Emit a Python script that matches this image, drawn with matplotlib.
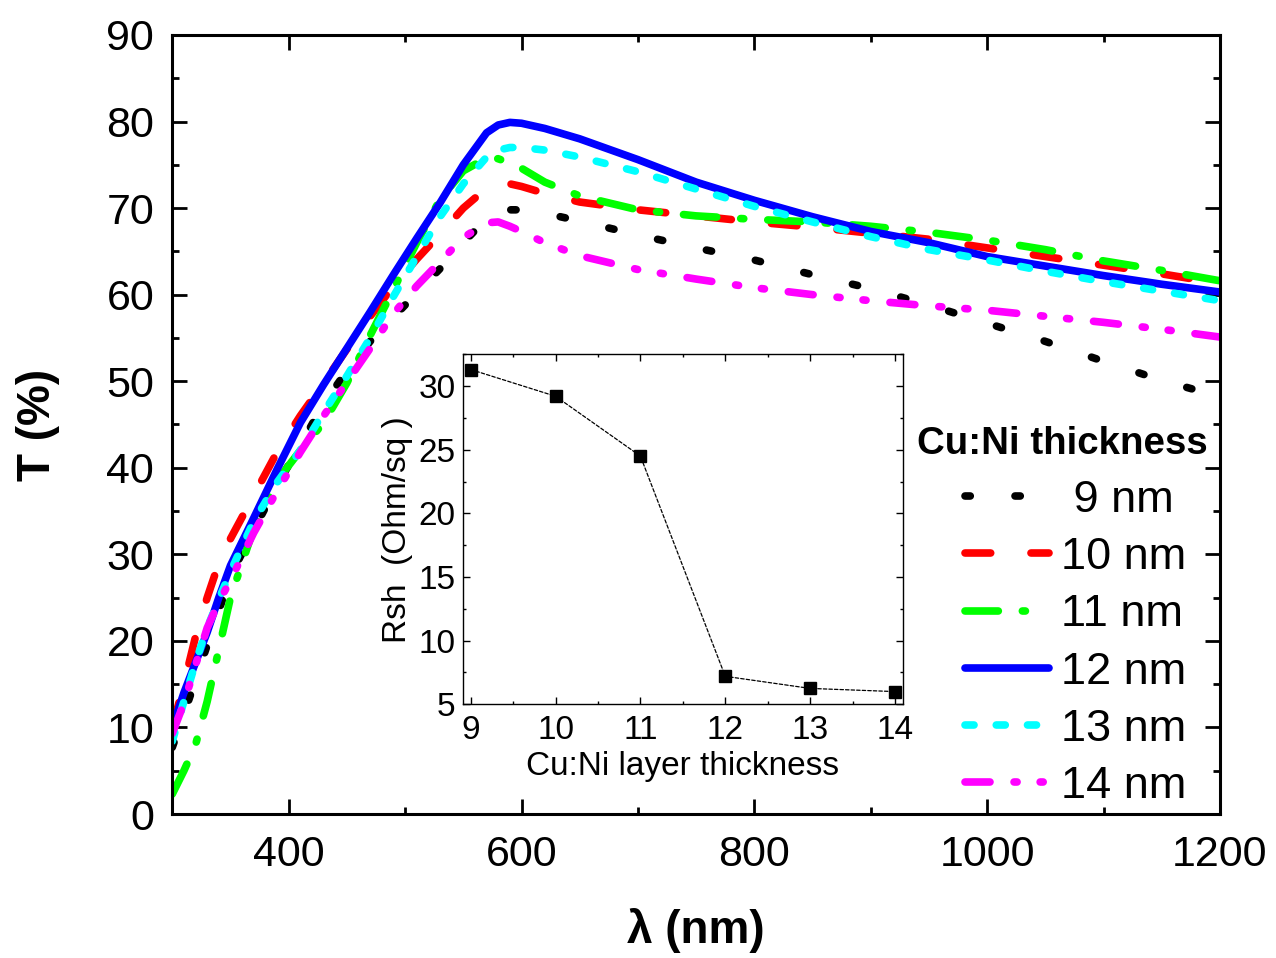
import matplotlib
matplotlib.use("Agg")
import matplotlib.pyplot as plt
from matplotlib.ticker import MultipleLocator

plt.rcParams['font.family'] = ['Liberation Sans', 'DejaVu Sans']
plt.rcParams['lines.scale_dashes'] = False
plt.rcParams['lines.dash_capstyle'] = 'round'
plt.rcParams['lines.solid_capstyle'] = 'round'

# ---------------- data ----------------
wavelength = [300, 310, 320, 330, 340, 350, 370, 390, 410, 430, 450, 470, 490,
              510, 530, 550, 570, 580, 590, 600, 620, 650, 700, 750, 800, 850,
              900, 950, 1000, 1050, 1100, 1150, 1200]

T_9nm = [7.7, 11.5, 15.5, 19.5, 23.5, 27.5, 32.8, 38.0, 42.6, 47.4, 51.2, 54.6, 57.4,
         60.2, 63.0, 66.0, 68.8, 69.5, 69.8, 69.8, 69.4, 68.5, 66.9, 65.4, 64.0, 62.3,
         60.7, 58.8, 56.7, 54.6, 52.3, 50.1, 48.2]
T_10nm = [10.0, 15.0, 20.5, 25.0, 29.0, 31.8, 36.8, 41.8, 46.0, 49.8, 53.7, 57.5, 61.0,
          64.1, 67.0, 70.0, 72.3, 72.8, 72.8, 72.5, 71.7, 70.7, 69.8, 69.1, 68.4, 67.8,
          67.1, 66.4, 65.4, 64.4, 63.4, 62.4, 61.3]
T_11nm = [2.3, 5.0, 8.0, 13.0, 19.0, 25.0, 33.0, 38.5, 42.0, 45.2, 49.8, 55.3, 60.6,
          66.0, 71.0, 74.3, 75.8, 75.7, 75.2, 74.6, 73.0, 71.4, 69.8, 69.1, 68.7, 68.4,
          67.9, 67.2, 66.3, 65.2, 63.9, 62.8, 61.6]
T_12nm = [10.0, 14.0, 17.5, 21.0, 25.0, 28.7, 34.2, 39.8, 45.2, 49.6, 53.8, 58.0, 62.3,
          66.5, 70.6, 75.0, 78.7, 79.6, 79.9, 79.8, 79.2, 78.0, 75.6, 73.0, 70.9, 69.0,
          67.3, 66.0, 64.4, 63.3, 62.2, 61.2, 60.3]
T_13nm = [8.4, 13.0, 17.5, 21.5, 24.8, 28.0, 33.8, 38.3, 42.0, 46.4, 50.6, 55.0, 59.8,
          64.4, 69.0, 72.8, 75.9, 76.7, 77.0, 77.0, 76.7, 75.9, 74.2, 72.2, 70.2, 68.4,
          66.7, 65.2, 64.0, 62.7, 61.5, 60.4, 59.3]
T_14nm = [9.3, 12.8, 17.2, 21.5, 24.5, 27.0, 32.5, 37.3, 41.8, 46.0, 49.9, 53.8, 57.8,
          61.0, 63.8, 66.6, 68.3, 68.4, 67.9, 67.3, 66.0, 64.5, 62.9, 61.8, 60.8, 60.0,
          59.3, 58.7, 58.2, 57.5, 56.8, 56.0, 55.1]

labels = [" 9 nm", "10 nm", "11 nm", "12 nm", "13 nm", "14 nm"]
legend_title = "Cu:Ni thickness"

inset_thickness = [9, 10, 11, 12, 13, 14]
inset_rsh = [31.3, 29.2, 24.5, 7.2, 6.25, 6.0]

# ---------------- styles ----------------
series = [T_9nm, T_10nm, T_11nm, T_12nm, T_13nm, T_14nm]
colors = ['#000000', '#FF0000', '#00FF00', '#0000FF', '#00FFFF', '#FF00FF']
dash_patterns = [[3.8, 32.2], [18.5, 29], [24, 17.3, 2.2, 17.3], None, [6.5, 16],
                 [18, 17.3, 2.2, 16.6, 2.2, 17.3]]

W, H = 1276, 958
fig = plt.figure(figsize=(W / 100, H / 100), dpi=100)
ax = fig.add_axes([0.135, 0.1503, 0.8211, 0.8132])

for y, c, d, lab in zip(series, colors, dash_patterns, labels):
    if d is None:
        ax.plot(wavelength, y, color=c, lw=5.5, label=lab)
    else:
        ax.plot(wavelength, y, color=c, lw=5.5, dashes=d, label=lab)

ax.set_xlim(300, 1200)
ax.set_ylim(0, 90)
ax.xaxis.set_major_locator(MultipleLocator(200))
ax.xaxis.set_minor_locator(MultipleLocator(100))
ax.yaxis.set_major_locator(MultipleLocator(10))
ax.yaxis.set_minor_locator(MultipleLocator(5))
ax.tick_params(which='both', direction='in', top=True, right=True, width=2.0)
ax.tick_params(which='major', length=10.5)
ax.tick_params(which='minor', length=5.3)
ax.tick_params(axis='x', which='major', labelsize=31, pad=15)
ax.tick_params(axis='y', which='major', labelsize=31, pad=13)
for sp in ax.spines.values():
    sp.set_linewidth(2.2)

ax.set_xlabel("λ (nm)", fontsize=33, fontweight='bold', labelpad=24)
ax.set_ylabel("T (%)", fontsize=33, fontweight='bold', labelpad=33)

fig.text(917 / W, 1 - 454 / H, legend_title, fontsize=27.7, fontweight='bold',
         ha='left', va='baseline')
leg = ax.legend(loc='upper left', bbox_to_anchor=(965 / W, 1 - 480 / H),
                bbox_transform=fig.transFigure, frameon=False, fontsize=32.5,
                borderpad=0, borderaxespad=0, handlelength=1.85,
                handletextpad=0.27, labelspacing=0.36)

# ---------------- inset ----------------
ins = fig.add_axes([0.3626, 0.2648, 0.3448, 0.3657])
ins.plot(inset_thickness, inset_rsh, color='black', lw=0.9, dashes=[2.5, 1.5],
         marker='s', markersize=8.5, markerfacecolor='black', markeredgecolor='black')
ins.set_xlim(8.906, 14.09)
ins.set_ylim(5, 32.52)
ins.xaxis.set_major_locator(MultipleLocator(1))
ins.xaxis.set_minor_locator(MultipleLocator(0.5))
ins.yaxis.set_major_locator(MultipleLocator(5))
ins.yaxis.set_minor_locator(MultipleLocator(2.5))
ins.tick_params(which='both', direction='in', top=True, right=True, width=1.0)
ins.tick_params(which='major', length=5, labelsize=24)
ins.tick_params(which='minor', length=2.5)
ins.tick_params(axis='x', which='major', pad=8)
ins.tick_params(axis='y', which='major', pad=5)
for sp in ins.spines.values():
    sp.set_linewidth(1.0)
ins.set_xlabel("Cu:Ni layer thickness", fontsize=24, labelpad=3)
ins.set_ylabel("Rsh  (Ohm/sq )", fontsize=24, labelpad=4)

fig.savefig("out.png", dpi=100)
